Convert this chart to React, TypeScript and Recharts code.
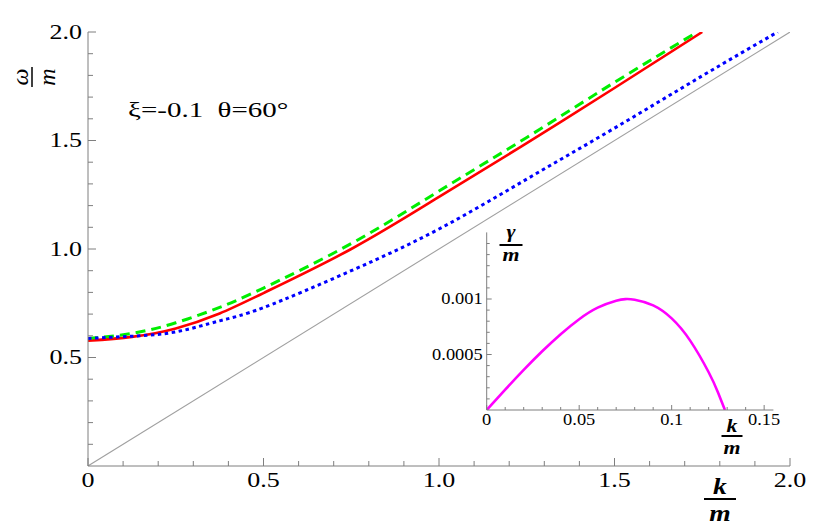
import { LineChart, Line, XAxis, YAxis } from "recharts";

// main plot: omega/m against k/m
const kRed = [0, 0.125, 0.25, 0.375, 0.5, 0.75, 1.0, 1.25, 1.5, 1.75];
const wRed = [0.577, 0.595, 0.634, 0.703, 0.797, 1.0, 1.24, 1.488, 1.742, 2.0];

const kGreen = [0, 0.125, 0.25, 0.375, 0.5, 0.75, 1.0, 1.25, 1.5, 1.736];
const wGreen = [0.588, 0.611, 0.66, 0.731, 0.82, 1.025, 1.267, 1.514, 1.768, 2.0];

const kBlue = [0, 0.125, 0.25, 0.375, 0.5, 0.75, 1.0, 1.25, 1.5, 1.75, 1.965];
const wBlue = [0.588, 0.598, 0.618, 0.669, 0.73, 0.9, 1.092, 1.322, 1.557, 1.798, 2.0];

const kLight = [0, 2];
const wLight = [0, 2];

// inset: gamma/m against k/m
const kGamma = [0, 0.01, 0.02, 0.03, 0.04, 0.05, 0.06, 0.07, 0.075, 0.08, 0.09, 0.1, 0.11, 0.12, 0.125, 0.1288];
const gamma = [0, 0.000183, 0.000361, 0.000529, 0.000683, 0.000818, 0.000922, 0.000985, 0.000999, 0.000993, 0.000942, 0.000825, 0.000625, 0.00034, 0.00016, 0];

// ticks
const xTicks = [0, 0.1, 0.2, 0.3, 0.4, 0.5, 0.6, 0.7, 0.8, 0.9, 1, 1.1, 1.2, 1.3, 1.4, 1.5, 1.6, 1.7, 1.8, 1.9, 2];
const yTicks = [0.1, 0.2, 0.3, 0.4, 0.5, 0.6, 0.7, 0.8, 0.9, 1, 1.1, 1.2, 1.3, 1.4, 1.5, 1.6, 1.7, 1.8, 1.9, 2];
const xMajor = [0, 0.5, 1, 1.5, 2];
const xMajorLabels = ["0", "0.5", "1.0", "1.5", "2.0"];
const yMajor = [0.5, 1, 1.5, 2];
const yMajorLabels = ["0.5", "1.0", "1.5", "2.0"];

const insetXTicks = [0, 0.01, 0.02, 0.03, 0.04, 0.05, 0.06, 0.07, 0.08, 0.09, 0.1, 0.11, 0.12, 0.13, 0.14, 0.15];
const insetYTicks = [0.0001, 0.0002, 0.0003, 0.0004, 0.0005, 0.0006, 0.0007, 0.0008, 0.0009, 0.001, 0.0011, 0.0012, 0.0013, 0.0014, 0.0015];
const insetXMajor = [0, 0.05, 0.1, 0.15];
const insetXMajorLabels = ["0", "0.05", "0.1", "0.15"];
const insetYMajor = [0.0005, 0.001];
const insetYMajorLabels = ["0.0005", "0.001"];

const zip = (ks: number[], vs: number[]) => ks.map((k, i) => ({ k, w: vs[i] }));

const AXIS = "#7f7f7f";
const SERIF = "'Liberation Serif', 'Times New Roman', serif";

type Side = "bottom" | "left" | "top" | "right";

// ticks point inward; labels are a bit wide in the original, hence the x-stretch
function makeTick(
  side: Side,
  majors: number[],
  labels: string[] | null,
  majorLen: number,
  minorLen: number,
  fontSize: number,
  gap: number,
  stretch: number
) {
  return (props: any) => {
    const { x, y, payload } = props;
    const v = payload.value;
    const i = majors.findIndex((m) => Math.abs(m - v) < 1e-9);
    const len = i >= 0 ? majorLen : minorLen;
    let line;
    if (side === "bottom") line = <line x1={x} x2={x} y1={y} y2={y - len} stroke={AXIS} />;
    else if (side === "top") line = <line x1={x} x2={x} y1={y} y2={y + len} stroke={AXIS} />;
    else if (side === "left") line = <line x1={x} x2={x + len} y1={y} y2={y} stroke={AXIS} />;
    else line = <line x1={x} x2={x - len} y1={y} y2={y} stroke={AXIS} />;
    let label = null;
    if (labels && i >= 0) {
      const style = { fontFamily: SERIF, fontSize };
      if (side === "bottom")
        label = (
          <text transform={`translate(${x},${y + gap}) scale(${stretch},1)`} textAnchor="middle" fill="#000" style={style}>
            {labels[i]}
          </text>
        );
      else if (side === "left")
        label = (
          <text transform={`translate(${x - gap},${y}) scale(${stretch},1)`} dy="0.34em" textAnchor="end" fill="#000" style={style}>
            {labels[i]}
          </text>
        );
    }
    return (
      <g>
        {line}
        {label}
      </g>
    );
  };
}

function Frac({ x, y, num, size, bar, up, down, rotate = 0, bold = false, stretch = 1.15 }: any) {
  const st = { fontFamily: SERIF, fontSize: size, fontStyle: "italic", fontWeight: bold ? 700 : 400 };
  return (
    <g transform={`translate(${x},${y}) rotate(${rotate})`}>
      <text transform={`translate(0,${-up}) scale(${stretch},1)`} textAnchor="middle" style={st}>
        {num}
      </text>
      <line x1={-bar / 2} x2={bar / 2} y1={0} y2={0} stroke="#000" strokeWidth={bold ? 2 : 1.5} />
      <text transform={`translate(0,${down}) scale(${stretch},1)`} textAnchor="middle" style={st}>
        m
      </text>
    </g>
  );
}

export default function App() {
  return (
    <div style={{ position: "absolute", left: 0, top: 0, width: 830, height: 532, background: "#fff" }}>
      <div style={{ position: "absolute", left: 0, top: 0 }}>
        <LineChart width={830} height={532} margin={{ top: 32, right: 40, left: 28, bottom: 36 }}>
          <XAxis
            xAxisId="b"
            dataKey="k"
            type="number"
            domain={[0, 2]}
            allowDataOverflow
            ticks={xTicks}
            interval={0}
            tickSize={0}
            tickMargin={0}
            height={30}
            stroke={AXIS}
            tickLine={false}
            tick={makeTick("bottom", xMajor, xMajorLabels, 8, 5, 20, 21, 1.3)}
          />
          <XAxis
            xAxisId="t"
            orientation="top"
            type="number"
            domain={[0, 2]}
            allowDataOverflow
            ticks={xTicks}
            interval={0}
            tickSize={0}
            tickMargin={0}
            height={0}
            stroke={AXIS}
            tickLine={false}
            tick={makeTick("top", xMajor, null, 8, 5, 20, 0, 1)}
          />
          <YAxis
            yAxisId="l"
            type="number"
            domain={[0, 2]}
            allowDataOverflow
            ticks={yTicks}
            interval={0}
            tickSize={0}
            tickMargin={0}
            width={60}
            stroke={AXIS}
            tickLine={false}
            tick={makeTick("left", yMajor, yMajorLabels, 8, 5, 20, 6, 1.3)}
          />
          <YAxis
            yAxisId="r"
            orientation="right"
            type="number"
            domain={[0, 2]}
            allowDataOverflow
            ticks={yTicks}
            interval={0}
            tickSize={0}
            tickMargin={0}
            width={0}
            stroke={AXIS}
            tickLine={false}
            tick={makeTick("right", yMajor, null, 8, 5, 20, 0, 1)}
          />
          <Line
            xAxisId="b"
            yAxisId="l"
            data={zip(kLight, wLight)}
            dataKey="w"
            type="linear"
            stroke="#a0a0a0"
            strokeWidth={1.1}
            dot={false}
            activeDot={false}
            isAnimationActive={false}
          />
          <Line
            xAxisId="b"
            yAxisId="l"
            data={zip(kRed, wRed)}
            dataKey="w"
            type="natural"
            stroke="#ff0000"
            strokeWidth={2.6}
            dot={false}
            activeDot={false}
            isAnimationActive={false}
          />
          <Line
            xAxisId="b"
            yAxisId="l"
            data={zip(kGreen, wGreen)}
            dataKey="w"
            type="natural"
            stroke="#00ee00"
            strokeWidth={3}
            strokeDasharray="10 6"
            dot={false}
            activeDot={false}
            isAnimationActive={false}
          />
          <Line
            xAxisId="b"
            yAxisId="l"
            data={zip(kBlue, wBlue)}
            dataKey="w"
            type="natural"
            stroke="#0000ff"
            strokeWidth={3}
            strokeDasharray="3.5 3.5"
            dot={false}
            activeDot={false}
            isAnimationActive={false}
          />
        </LineChart>
      </div>

      <div style={{ position: "absolute", left: 400, top: 222 }}>
        <LineChart width={410} height={218} margin={{ top: 10.4, right: 36.6, left: 26.7, bottom: 10 }}>
          <XAxis
            xAxisId="ib"
            dataKey="k"
            type="number"
            domain={[0, 0.155]}
            allowDataOverflow
            ticks={insetXTicks}
            interval={0}
            tickSize={0}
            tickMargin={0}
            height={20}
            stroke={AXIS}
            tickLine={false}
            tick={makeTick("bottom", insetXMajor, insetXMajorLabels, 5, 3, 16, 15, 1.15)}
          />
          <YAxis
            yAxisId="il"
            type="number"
            domain={[0, 0.0016]}
            allowDataOverflow
            ticks={insetYTicks}
            interval={0}
            tickSize={0}
            tickMargin={0}
            width={60}
            stroke={AXIS}
            tickLine={false}
            tick={makeTick("left", insetYMajor, insetYMajorLabels, 5, 3, 16, 4, 1.15)}
          />
          <Line
            xAxisId="ib"
            yAxisId="il"
            data={zip(kGamma, gamma)}
            dataKey="w"
            type="natural"
            stroke="#ff00ff"
            strokeWidth={2.6}
            dot={false}
            activeDot={false}
            isAnimationActive={false}
          />
        </LineChart>
      </div>

      <svg width={830} height={532} style={{ position: "absolute", left: 0, top: 0, pointerEvents: "none" }}>
        <text
          transform="translate(128,117) scale(1.38,1)"
          style={{ fontFamily: SERIF, fontSize: 21, whiteSpace: "pre" }}
        >
          {"ξ=-0.1  θ=60°"}
        </text>
        <Frac x={32} y={77} num="ω" size={24} bar={20} up={4} down={23} rotate={-90} stretch={1} />
        <Frac x={720} y={499} num="k" size={24} bar={32} up={5} down={22} bold />
        <Frac x={511} y={245} num="γ" size={19} bar={23} up={7} down={16} bold />
        <Frac x={732} y={436} num="k" size={19} bar={21} up={4} down={17.5} bold />
      </svg>
    </div>
  );
}
